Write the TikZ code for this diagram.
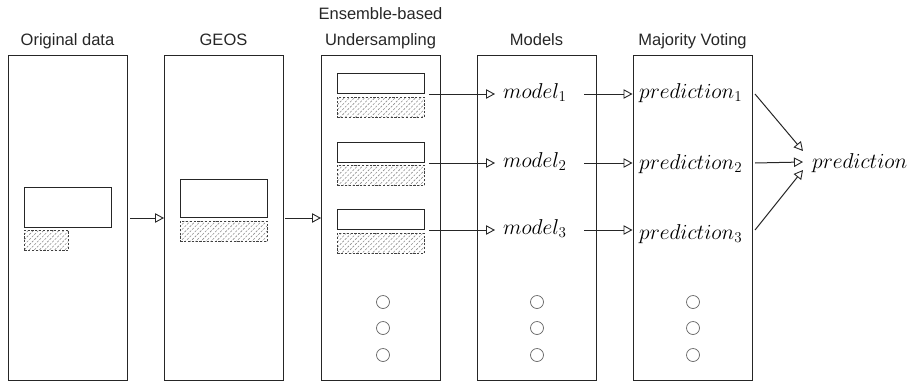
\RequirePackage{fix-cm}
\documentclass[tikz,border=0pt]{standalone}
\usepackage{fontspec}
\newfontfamily\titlefont{Liberation Sans}
\usetikzlibrary{arrows.meta,patterns.meta}
\tikzset{
  panel/.style={draw=black!85, line width=1pt, anchor=north west, minimum width=119pt, minimum height=325pt, inner sep=0pt},
  title/.style={anchor=base, inner sep=0pt, font=\fontsize{16.5}{19}\titlefont, text=black!85},
  whitebox/.style={draw=black!85, line width=1pt, fill=white, anchor=north west, inner sep=0pt, minimum width=87pt},
  hatchbox/.style={draw=black!75, line width=0.8pt, dash pattern=on 2.2pt off 1.6pt, pattern={Lines[angle=45, distance=3.6pt, line width=0.6pt]}, pattern color=black!45, anchor=north west, inner sep=0pt, minimum height=20pt},
  dot/.style={circle, draw=black!60, line width=0.7pt, minimum size=13pt, inner sep=0pt},
  mlabel/.style={anchor=base west, inner sep=0pt, font=\fontsize{21.5}{25}\selectfont},
  arr/.style={draw=black!85, line width=1pt, -{Triangle[open, length=9pt, width=9.5pt, line width=0.9pt]}},
}
\begin{document}
\begin{tikzpicture}[x=1pt,y=-1pt]
\useasboundingbox (0,0) rectangle (911,381);
% panels
\node[panel] (p1) at (8,55) {};
\node[panel] (p2) at (164,55) {};
\node[panel] (p3) at (321,55) {};
\node[panel] (p4) at (477,55) {};
\node[panel] (p5) at (633,55) {};
% titles
\node[title] (t1) at (67.5,45) {Original data};
\node[title] (t2) at (223.5,45) {GEOS};
\node[title] (t3a) at (380.5,19) {Ensemble-based};
\node[title] (t3b) at (380.5,45) {Undersampling};
\node[title] (t4) at (536.5,45) {Models};
\node[title] (t5) at (692.5,45) {Majority Voting};
% panel 1
\node[whitebox, minimum height=40pt] (w0) at (24,187) {};
\node[hatchbox, minimum width=44pt] (h0) at (24,230) {};
% panel 2
\node[whitebox, minimum height=38pt] (wg) at (180,179) {};
\node[hatchbox, minimum width=87pt] (hg) at (180,221) {};
% panel 3
\node[whitebox, minimum height=20pt] (w1) at (337,73) {};
\node[hatchbox, minimum width=87pt] (h1) at (337,97) {};
\node[whitebox, minimum height=20pt] (w2) at (337,142) {};
\node[hatchbox, minimum width=87pt] (h2) at (337,165) {};
\node[whitebox, minimum height=20pt] (w3) at (337,209) {};
\node[hatchbox, minimum width=87pt] (h3) at (337,233) {};
% dots
\foreach \x/\n in {383/a,537/b,693/c}{
  \node[dot] (d\n1) at (\x,302) {};
  \node[dot] (d\n2) at (\x,328) {};
  \node[dot] (d\n3) at (\x,355) {};
}
% model labels
\node[mlabel] (m1) at (503,98) {$model_1$};
\node[mlabel] (m2) at (503,167) {$model_2$};
\node[mlabel] (m3) at (503,234) {$model_3$};
% prediction labels
\node[mlabel] (q1) at (639,98) {$prediction_1$};
\node[mlabel] (q2) at (639,169) {$prediction_2$};
\node[mlabel] (q3) at (639,239) {$prediction_3$};
\node[mlabel] (fin) at (812,168) {$prediction$};
% arrows between panels
\draw[arr, shorten <=2pt] (p1.east) -- (p2.west);
\draw[arr, shorten <=1pt] (p2.east) -- (p3.west);
% rows
\foreach \i in {1,2,3}{
  \draw[arr, shorten >=8pt] ([xshift=4pt]w\i.south east) -- (w\i.south east -| m\i.west);
  \draw[arr, shorten >=0.5pt] ([xshift=-13pt]w\i.south east -| p4.east) -- (w\i.south east -| p5.west);
}
% to final prediction
\draw[arr] ([xshift=2pt]w1.south east -| p5.east) -- ([xshift=-9pt,yshift=17pt]fin.base west);
\draw[arr] ([xshift=2pt]w2.south east -| p5.east) -- ([xshift=-9pt,yshift=6pt]fin.base west);
\draw[arr] ([xshift=2pt]w3.south east -| p5.east) -- ([xshift=-9pt,yshift=-2pt]fin.base west);
\end{tikzpicture}
\end{document}
